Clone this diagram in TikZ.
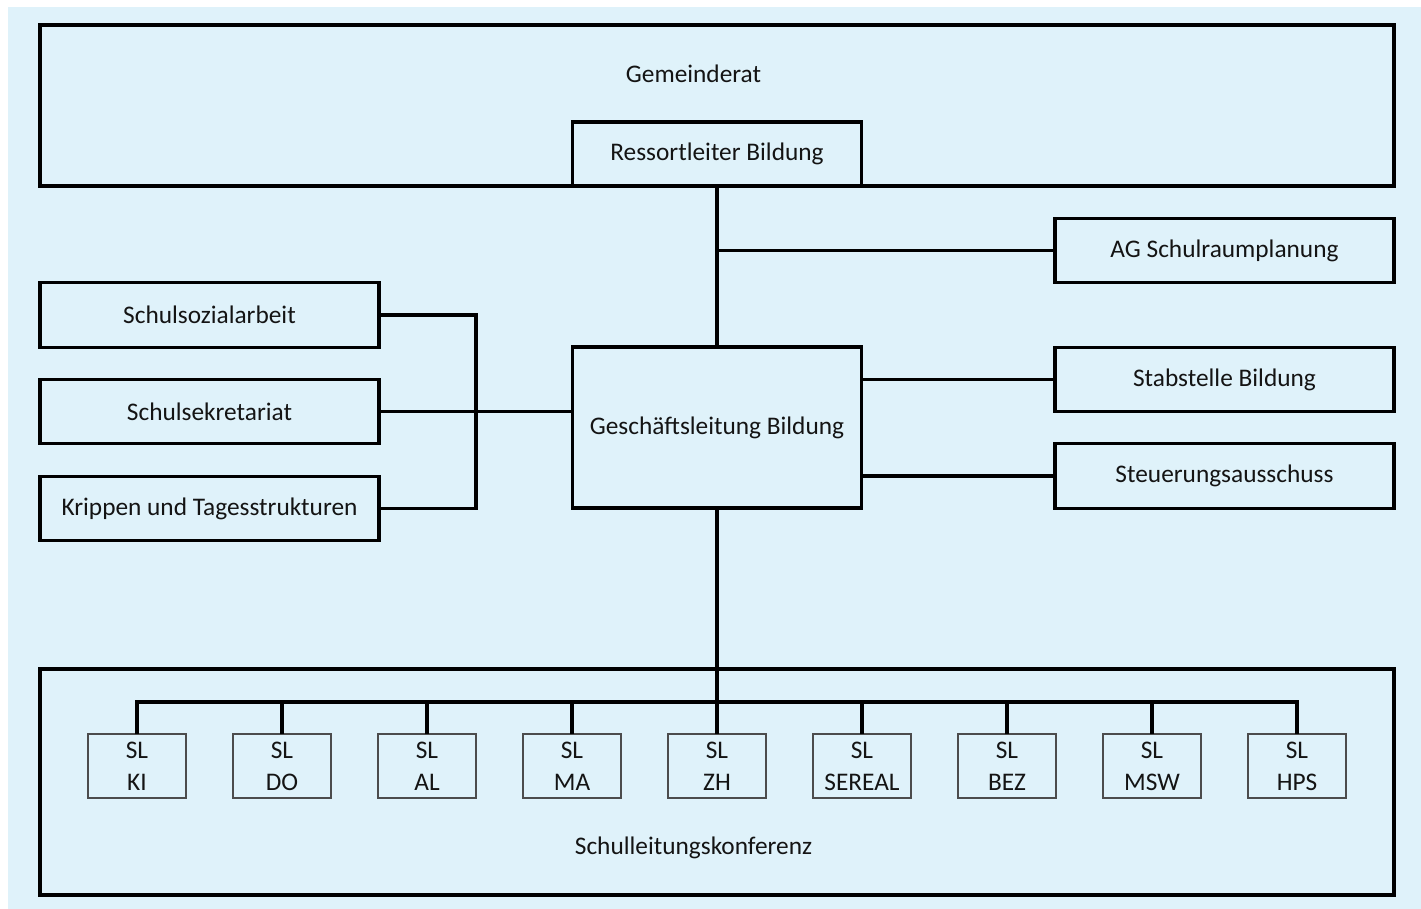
\documentclass[tikz,border=0pt]{standalone}
\usepackage{fontspec}
\setmainfont{Carlito}
\definecolor{bgblue}{RGB}{223,242,250}
\definecolor{txt}{RGB}{20,20,20}
\begin{document}
\begin{tikzpicture}[x=0.75pt,y=-0.75pt,
  every node/.style={font=\fontsize{19}{24}\selectfont,text=txt,inner sep=0pt,outer sep=0pt},
  bigbox/.style={draw=black,line width=2.4pt,rectangle},
  sidebox/.style={bigbox,minimum width=254.25pt,minimum height=48.5pt},
  slbox/.style={draw=black!70,line width=1pt,rectangle,minimum width=73.5pt,minimum height=48pt,align=center},
  conn/.style={draw=black,line width=2.5pt}]
\useasboundingbox (0,0) rectangle (1421,908);
\fill[white] (-5,-5) rectangle (1430,915);
\fill[bgblue] (8,7) rectangle (1430,915);

% Gemeinderat
\node[bigbox,minimum width=1015.5pt,minimum height=120.75pt] (gr) at (717,105.5) {};
\node (grl) at (693.5,74) {Gemeinderat};
\node[bigbox,minimum width=216.75pt,minimum height=48pt] (res) at (717,154) {Ressortleiter Bildung};

% Geschaeftsleitung
\node[bigbox,minimum width=216.75pt,minimum height=120.75pt] (gl) at (717,427.5) {Geschäftsleitung Bildung};

% right side
\node[sidebox] (ag) at (1224.5,250.5) {AG Schulraumplanung};
\node[sidebox] (stab) at (1224.5,379.5) {Stabstelle Bildung};
\node[sidebox] (steu) at (1224.5,476) {Steuerungsausschuss};

% left side
\node[sidebox] (soz) at (209.5,315) {Schulsozialarbeit};
\node[sidebox] (sek) at (209.5,411.5) {Schulsekretariat};
\node[sidebox] (kri) at (209.5,508.5) {Krippen und Tagesstrukturen};

% Schulleitungskonferenz
\node[bigbox,minimum width=1015.5pt,minimum height=169.5pt] (slkbox) at (717,782) {};
\node (slkl) at (693.5,848) {Schulleitungskonferenz};

\foreach \i/\t in {0/KI,1/DO,2/AL,3/MA,4/ZH,5/SEREAL,6/BEZ,7/MSW,8/HPS}{
  \node[slbox] (sl\i) at ({137+145*\i},766) {SL\\\t};
}

\coordinate (br) at (476,412);
\coordinate (bus) at (717,702);

% connectors
\draw[conn] (res.south) -- (gl.north);
\draw[conn] (ag.west) -- (ag.west -| res.south);
\draw[conn] (soz.east) -- (soz.east -| br) -- (kri.east -| br) -- (kri.east);
\draw[conn] (sek.east) -- (sek.east -| gl.west);
\draw[conn] (stab.west) -- (stab.west -| gl.east);
\draw[conn] (steu.west) -- (steu.west -| gl.east);
\draw[conn] (gl.south) -- (sl4.north);
\draw[conn] (sl0.north) -- (sl0.north |- bus) -- (sl8.north |- bus) -- (sl8.north);
\foreach \i in {1,2,3,5,6,7}{
  \draw[conn] (sl\i.north) -- (sl\i.north |- bus);
}
\end{tikzpicture}
\end{document}
